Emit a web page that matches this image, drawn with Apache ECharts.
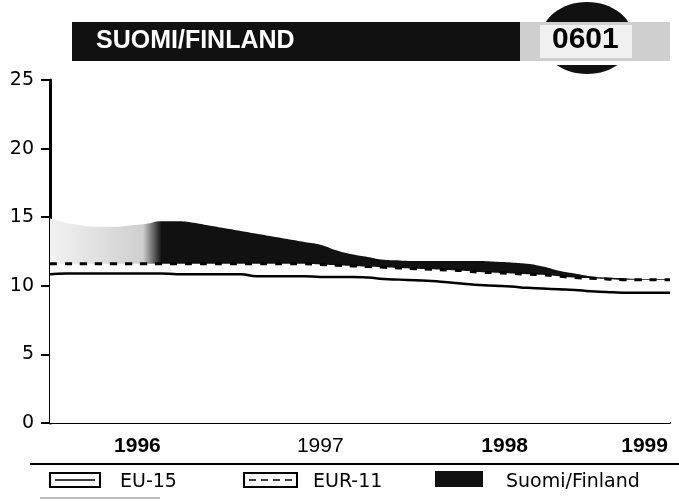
<!DOCTYPE html>
<html>
<head>
<meta charset="utf-8">
<script src="https://cdn.jsdelivr.net/npm/echarts@6/dist/echarts.min.js"></script>
<style>
  html, body { margin: 0; padding: 0; background: #fff; }
  #main { width: 679px; height: 501px; }
</style>
</head>
<body>
<div id="main"></div>
<script>
// x = months since Jan 1996 (0 .. 39)
var months = [];
for (var i = 0; i < 40; i++) months.push(i);

// year labels and where they sit on the month axis
var yearLabels = ['1996', '1997', '1998', '1999'];
var yearTicks = [5.5, 17, 28.6, 37.4];
var boldYears = ['1996', '1998', '1999'];
var yTicks = [0, 5, 10, 15, 20, 25];

var finland = [14.9, 14.6, 14.4, 14.3, 14.3, 14.4, 14.5, 14.7, 14.7, 14.6,
  14.4, 14.2, 14.0, 13.8, 13.6, 13.4, 13.2, 13.0, 12.6, 12.3,
  12.1, 11.9, 11.85, 11.8, 11.8, 11.8, 11.8, 11.8, 11.75, 11.7,
  11.6, 11.4, 11.1, 10.9, 10.7, 10.6, 10.55, 10.5, 10.5, 10.5];
var eu15 = [10.85, 10.9, 10.9, 10.9, 10.9, 10.9, 10.9, 10.9, 10.85, 10.85,
  10.85, 10.85, 10.85, 10.7, 10.7, 10.7, 10.7, 10.65, 10.65, 10.65,
  10.6, 10.5, 10.45, 10.4, 10.35, 10.25, 10.15, 10.05, 10.0, 9.95,
  9.85, 9.8, 9.75, 9.7, 9.6, 9.55, 9.5, 9.5, 9.5, 9.5];
var eur11 = [11.6, 11.6, 11.6, 11.6, 11.6, 11.6, 11.6, 11.6, 11.6, 11.6,
  11.6, 11.6, 11.6, 11.6, 11.6, 11.6, 11.6, 11.55, 11.5, 11.45,
  11.4, 11.35, 11.3, 11.25, 11.2, 11.15, 11.1, 11.0, 10.95, 10.9,
  10.85, 10.8, 10.7, 10.6, 10.55, 10.5, 10.45, 10.45, 10.45, 10.45];

function pairs(arr) {
  return arr.map(function (v, i) { return [months[i], v]; });
}

var chart = echarts.init(document.getElementById('main'));
var font = 'Liberation Sans, Arial, sans-serif';
var wide = 'DejaVu Sans, sans-serif';

var option = {
  animation: false,
  grid: { left: 50, right: 9, top: 80, bottom: 78 },
  xAxis: {
    type: 'value',
    min: 0,
    max: 39,
    splitLine: { show: false },
    axisLine: { lineStyle: { color: '#000', width: 2 } },
    axisTick: { show: false },
    axisLabel: {
      customValues: yearTicks,
      margin: 13,
      formatter: function (v) {
        var k = -1;
        yearTicks.forEach(function (t, j) { if (Math.abs(t - v) < 0.01) k = j; });
        if (k < 0) return '';
        var y = yearLabels[k];
        return boldYears.indexOf(y) >= 0 ? '{b|' + y + '}' : '{n|' + y + '}';
      },
      rich: {
        b: { fontFamily: font, fontSize: 21, fontWeight: 'bold', color: '#000' },
        n: { fontFamily: font, fontSize: 21, color: '#000' }
      }
    }
  },
  yAxis: {
    type: 'value',
    min: yTicks[0],
    max: yTicks[yTicks.length - 1],
    interval: 5,
    splitLine: { show: false },
    axisLine: { show: true, lineStyle: { color: '#000', width: 3 } },
    axisTick: { show: true, length: 9, lineStyle: { color: '#000', width: 2 } },
    axisLabel: { fontFamily: wide, fontSize: 19, color: '#000', margin: 16 }
  },
  series: [
    {
      // Finland filled dark down to the axis
      name: 'Suomi/Finland',
      type: 'line',
      data: pairs(finland),
      symbol: 'none',
      smooth: true,
      z: 1,
      lineStyle: { width: 0 },
      areaStyle: {
        opacity: 1,
        origin: 'start',
        color: new echarts.graphic.LinearGradient(0, 0, 1, 0, [
          { offset: 0, color: '#f2f2f2' },
          { offset: 0.15, color: '#cfcfcf' },
          { offset: 0.18, color: '#111' },
          { offset: 1, color: '#111' }
        ])
      }
    },
    {
      // white fill under EUR-11 leaves only the band above it dark
      name: 'EUR-11 fill',
      type: 'line',
      data: pairs(eur11),
      symbol: 'none',
      smooth: true,
      z: 2,
      silent: true,
      lineStyle: { width: 0 },
      areaStyle: { opacity: 1, origin: 'start', color: '#fff' }
    },
    {
      name: 'EUR-11',
      type: 'line',
      data: pairs(eur11),
      symbol: 'none',
      smooth: true,
      z: 3,
      lineStyle: { color: '#000', width: 3, type: [7, 8] }
    },
    {
      name: 'EU-15',
      type: 'line',
      data: pairs(eu15),
      symbol: 'none',
      smooth: true,
      z: 4,
      lineStyle: { color: '#000', width: 2.5 }
    }
  ],
  graphic: [
    // title bar with the round badge
    { type: 'ellipse', shape: { cx: 587, cy: 38, rx: 46, ry: 36 }, style: { fill: '#111' }, z: 1 },
    { type: 'rect', shape: { x: 72, y: 22, width: 598, height: 39 }, style: { fill: '#111' }, z: 2 },
    { type: 'rect', shape: { x: 520, y: 22, width: 150, height: 39 }, style: { fill: '#cfcfcf' }, z: 3 },
    { type: 'rect', shape: { x: 540, y: 25, width: 92, height: 33 }, style: { fill: '#f0f0f0' }, z: 3 },
    { type: 'rect', shape: { x: 530, y: 61, width: 120, height: 4 }, style: { fill: '#fff' }, z: 3 },
    {
      type: 'text', left: 96, top: 29, z: 4,
      style: { text: 'SUOMI/FINLAND', fill: '#fff', font: 'bold 25px ' + font }
    },
    {
      type: 'text', left: 552, top: 25, z: 4,
      style: { text: '0601', fill: '#000', font: 'bold 30px ' + font }
    },
    // legend
    { type: 'line', shape: { x1: 30, y1: 464, x2: 679, y2: 464 }, style: { stroke: '#000', lineWidth: 2 } },
    { type: 'line', shape: { x1: 40, y1: 498, x2: 160, y2: 498 }, style: { stroke: '#bbb', lineWidth: 2 } },
    { type: 'rect', shape: { x: 50, y: 473, width: 50, height: 14 }, style: { fill: '#fff', stroke: '#000', lineWidth: 2 } },
    { type: 'line', shape: { x1: 55, y1: 480, x2: 95, y2: 480 }, style: { stroke: '#000', lineWidth: 1.5 } },
    { type: 'text', left: 120, top: 473, style: { text: 'EU-15', fill: '#000', font: '19px ' + wide } },
    { type: 'rect', shape: { x: 244, y: 473, width: 53, height: 14 }, style: { fill: '#fff', stroke: '#000', lineWidth: 2 } },
    { type: 'line', shape: { x1: 249, y1: 480, x2: 293, y2: 480 }, style: { stroke: '#000', lineWidth: 1.5, lineDash: [7, 5] } },
    { type: 'text', left: 313, top: 473, style: { text: 'EUR-11', fill: '#000', font: '19px ' + wide } },
    { type: 'rect', shape: { x: 435, y: 471, width: 48, height: 16 }, style: { fill: '#111' } },
    { type: 'text', left: 506, top: 473, style: { text: 'Suomi/Finland', fill: '#000', font: '19px ' + wide } }
  ]
};

chart.setOption(option);
</script>
</body>
</html>
